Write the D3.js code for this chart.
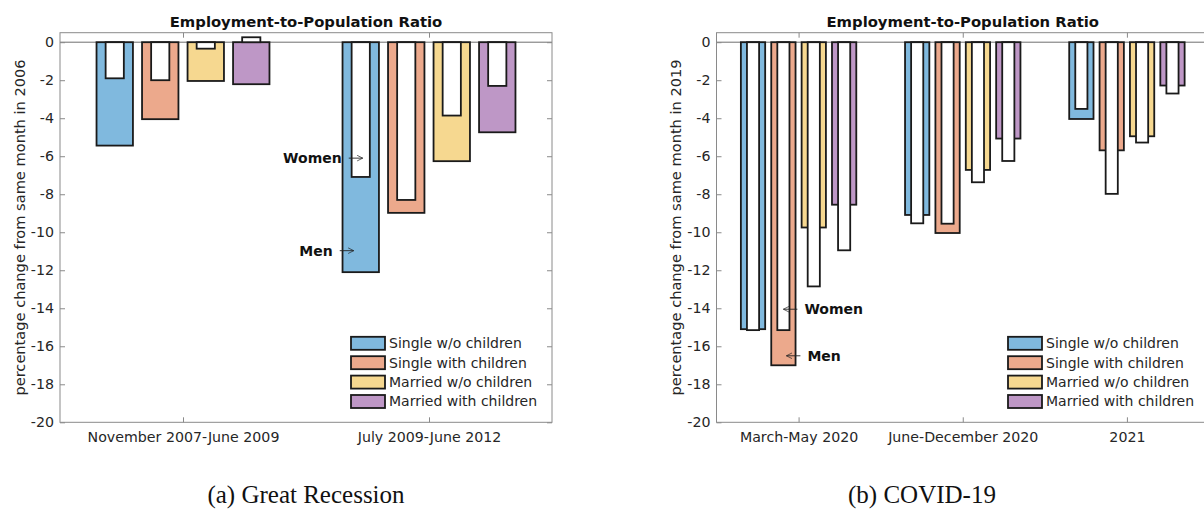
<!DOCTYPE html>
<html>
<head>
<meta charset="utf-8">
<script src="https://cdn.jsdelivr.net/npm/d3@7"></script>
<style>
  body { margin: 0; background: #fff; }
  svg { display: block; font-family: 'DejaVu Sans', sans-serif; }
</style>
</head>
<body>
<div id="chart"></div>
<script>
const width = 1204
const height = 513

const keys = ['Single w/o children', 'Single with children', 'Married w/o children', 'Married with children']
const colors = ['#80b9de', '#eca98c', '#f6d890', '#be97c6']
const yTicks = [0, -2, -4, -6, -8, -10, -12, -14, -16, -18, -20]

// (a) Great Recession, change vs 2006
const periodsA = ['November 2007-June 2009', 'July 2009-June 2012']
const menA = [[-5.44, -4.05, -2.04, -2.21], [-12.1, -8.98, -6.26, -4.74]]
const womenA = [[-1.9, -2.0, -0.34, 0.26], [-7.09, -8.3, -3.86, -2.3]]

// (b) COVID-19, change vs 2019
const periodsB = ['March-May 2020', 'June-December 2020', '2021']
const menB = [[-15.1, -17.0, -9.75, -8.55], [-9.09, -10.04, -6.72, -5.07], [-4.04, -5.69, -4.95, -2.28]]
const womenB = [[-15.15, -15.15, -12.85, -10.95], [-9.53, -9.55, -7.37, -6.25], [-3.51, -7.98, -5.28, -2.7]]

const axisColor = '#8a8a8a'
const textColor = '#262626'

const svg = d3.select('#chart')
  .append('svg')
    .attr('width', width)
    .attr('height', height)

svg.append('defs')
  .append('marker')
    .attr('id', 'head')
    .attr('viewBox', '0 -5 10 10')
    .attr('refX', 9)
    .attr('refY', 0)
    .attr('markerUnits', 'userSpaceOnUse')
    .attr('markerWidth', 7)
    .attr('markerHeight', 7)
    .attr('orient', 'auto')
  .append('path')
    .attr('d', 'M1,-4L9,0L1,4')
    .attr('fill', 'none')
    .attr('stroke', '#222')
    .attr('stroke-width', 1)

let panel = opts => {
  const { left, right, top, bottom } = opts
  const g = svg.append('g')

  const x0 = d3.scaleBand()
    .domain(opts.periods)
    .range([left, right])
  const step = x0.step()
  const x1 = d3.scaleBand()
    .domain(d3.range(keys.length))
    .range([-0.37 * step, 0.37 * step])
    .paddingInner(0.2)
    .paddingOuter(0.1)
  const y = d3.scaleLinear()
    .domain([0.5, -20])
    .range([top, bottom])
  const color = d3.scaleOrdinal().domain(d3.range(keys.length)).range(colors)

  const center = (p, k) => x0(p) + step / 2 + x1(k) + x1.bandwidth() / 2

  const rows = opts.periods.flatMap((p, pi) => keys.map((k, ki) => ({
    period: p, key: ki, men: opts.men[pi][ki], women: opts.women[pi][ki]
  })))

  // zero line
  g.append('line')
    .attr('x1', left).attr('x2', right)
    .attr('y1', y(0)).attr('y2', y(0))
    .attr('stroke', '#6e6e6e')
    .attr('stroke-width', 1)

  // men: wide coloured bars
  g.append('g')
    .selectAll('rect')
    .data(rows)
    .join('rect')
      .attr('x', d => center(d.period, d.key) - x1.bandwidth() / 2)
      .attr('y', d => y(Math.max(0, d.men)))
      .attr('width', x1.bandwidth())
      .attr('height', d => Math.abs(y(d.men) - y(0)))
      .attr('fill', d => color(d.key))
      .attr('stroke', '#1a1a1a')
      .attr('stroke-width', 1.8)

  // women: narrow white bars on top
  g.append('g')
    .selectAll('rect')
    .data(rows)
    .join('rect')
      .attr('x', d => center(d.period, d.key) - x1.bandwidth() / 4)
      .attr('y', d => y(Math.max(0, d.women)))
      .attr('width', x1.bandwidth() / 2)
      .attr('height', d => Math.abs(y(d.women) - y(0)))
      .attr('fill', '#fff')
      .attr('stroke', '#1a1a1a')
      .attr('stroke-width', 1.8)

  // axes, ticks pointing inward on all four sides
  const xMid = d3.scalePoint().domain(opts.periods).range([left + step / 2, right - step / 2])
  g.append('g')
    .attr('transform', `translate(0,${bottom})`)
    .call(d3.axisBottom(xMid).tickSize(-5).tickPadding(10))
  g.append('g')
    .attr('transform', `translate(0,${top})`)
    .call(d3.axisTop(xMid).tickSize(-5).tickFormat(''))
  g.append('g')
    .attr('transform', `translate(${left},0)`)
    .call(d3.axisLeft(y).tickValues(yTicks).tickSize(-5).tickPadding(6).tickFormat(d => String(d)))
  g.append('g')
    .attr('transform', `translate(${right},0)`)
    .call(d3.axisRight(y).tickValues(yTicks).tickSize(-5).tickFormat(''))
  g.selectAll('.domain').remove()
  g.selectAll('.tick line').attr('stroke', axisColor)
  g.selectAll('.tick text')
    .attr('fill', textColor)
    .style('font-size', '14.2px')
    .style('font-family', "'DejaVu Sans', sans-serif")

  g.append('rect')
    .attr('x', left).attr('y', top)
    .attr('width', right - left).attr('height', bottom - top)
    .attr('fill', 'none')
    .attr('stroke', axisColor)
    .attr('stroke-width', 1)

  // title
  g.append('text')
    .attr('x', (left + right) / 2)
    .attr('y', 27)
    .attr('text-anchor', 'middle')
    .style('font-size', '14.8px')
    .style('font-weight', 'bold')
    .attr('fill', '#111')
    .text('Employment-to-Population Ratio')

  // y label
  g.append('text')
    .attr('transform', `translate(${opts.ylabelX},${(top + bottom) / 2}) rotate(-90)`)
    .attr('text-anchor', 'middle')
    .attr('dy', '0.35em')
    .style('font-size', '14.6px')
    .attr('fill', textColor)
    .text(opts.ylabel)

  // legend
  const legend = g.append('g')
    .attr('transform', `translate(${right - 201},${bottom - 79})`)
  const item = legend.selectAll('g')
    .data(keys)
    .join('g')
      .attr('transform', (d, i) => `translate(0,${i * 19.4})`)
  item.append('rect')
    .attr('x', 0).attr('y', -6.5)
    .attr('width', 34).attr('height', 13)
    .attr('fill', (d, i) => color(i))
    .attr('stroke', '#1a1a1a')
    .attr('stroke-width', 1.8)
  item.append('text')
    .attr('x', 38)
    .attr('dy', '0.35em')
    .style('font-size', '14px')
    .attr('fill', textColor)
    .text(d => d)

  // Women / Men arrows
  opts.notes.forEach(n => {
    const tip = center(opts.periods[n.period], n.key) + n.dx
    const dir = n.side === 'left' ? -1 : 1
    const tail = tip + dir * 14
    const ny = y(n.y)
    g.append('line')
      .attr('x1', tail).attr('y1', ny)
      .attr('x2', tip).attr('y2', ny)
      .attr('stroke', '#222')
      .attr('stroke-width', 0.9)
      .attr('marker-end', 'url(#head)')
    g.append('text')
      .attr('x', tail + dir * 7)
      .attr('y', ny)
      .attr('dy', '0.35em')
      .attr('text-anchor', n.side === 'left' ? 'end' : 'start')
      .style('font-size', '14px')
      .style('font-weight', 'bold')
      .attr('fill', '#111')
      .text(n.label)
  })

  // caption
  svg.append('text')
    .attr('x', opts.captionX)
    .attr('y', 503)
    .attr('text-anchor', 'middle')
    .style('font-family', "'Liberation Serif', 'DejaVu Serif', serif")
    .style('font-size', '25px')
    .attr('fill', '#111')
    .text(opts.caption)
}

panel({
  left: 60, right: 552, top: 32.7, bottom: 422.3,
  periods: periodsA, men: menA, women: womenA,
  ylabel: 'percentage change from same month in 2006', ylabelX: 20,
  notes: [
    { label: 'Women', period: 1, key: 0, y: -6.1, side: 'left', dx: 2 },
    { label: 'Men', period: 1, key: 0, y: -10.97, side: 'left', dx: -7 }
  ],
  caption: '(a) Great Recession', captionX: 306
})

panel({
  left: 716.5, right: 1209, top: 32.7, bottom: 422.3,
  periods: periodsB, men: menB, women: womenB,
  ylabel: 'percentage change from same month in 2019', ylabelX: 676,
  notes: [
    { label: 'Women', period: 0, key: 1, y: -14.05, side: 'right', dx: 0 },
    { label: 'Men', period: 0, key: 1, y: -16.5, side: 'right', dx: 3 }
  ],
  caption: '(b) COVID-19', captionX: 922
})
</script>
</body>
</html>
